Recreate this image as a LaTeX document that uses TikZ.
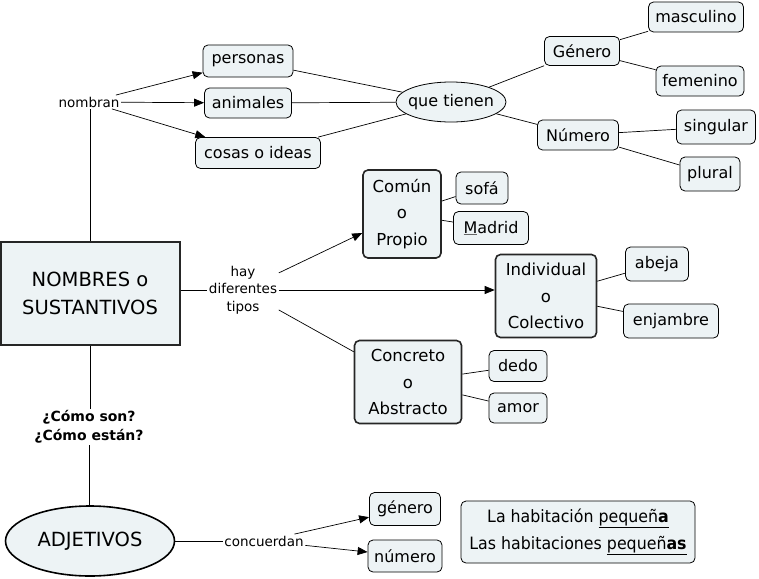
\documentclass[tikz,border=0pt]{standalone}
\usepackage{fontspec}
\setmainfont{DejaVu Sans}
\newfontfamily\lblfont{DejaVu Sans}
\newfontfamily\narrowfont{DejaVu Sans}[FakeStretch=0.93]
\usetikzlibrary{shapes.geometric,arrows.meta}
\definecolor{boxfill}{HTML}{EDF3F5}
\tikzset{
  every node/.style={font=\fontsize{16}{19}\selectfont},
  leaf/.style={draw=black, fill=boxfill, rounded corners=5pt, line width=0.8pt, inner sep=0pt},
  mid/.style={draw=black!85, fill=boxfill, rounded corners=5pt, line width=1.6pt, inner sep=0pt, align=center, font=\fontsize{16.5}{26.5}\selectfont},
  lbl/.style={inner sep=1.5pt, font=\lblfont\fontsize{13.5}{17.5}\selectfont, align=center},
  conn/.style={line width=0.7pt},
  arr/.style={line width=0.7pt, -{Triangle[length=10pt,width=8pt]}},
}
\begin{document}
\begin{tikzpicture}[x=1pt,y=-1pt]
\useasboundingbox (0,0) rectangle (759,578);
% top branch
\node[lbl] (nombran) at (89,102) {nombran};
\node[leaf, minimum width=90, minimum height=32] (personas) at (248,61) {personas};
\node[leaf, minimum width=87, minimum height=30] (animales) at (248,103) {animales};
\node[leaf, minimum width=125, minimum height=31] (cosas) at (258,153) {cosas o ideas};
\node[ellipse, draw=black, fill=boxfill, line width=0.8pt, minimum width=110, minimum height=40, inner xsep=-9pt, inner ysep=0pt] (tienen) at (451,102) {que tienen};
\node[leaf, minimum width=75, minimum height=29] (genero) at (582,51) {Género};
\node[leaf, minimum width=95, minimum height=30] (masc) at (696,17) {masculino};
\node[leaf, minimum width=88, minimum height=30] (fem) at (700,81) {femenino};
\node[leaf, minimum width=81, minimum height=30] (numero) at (578,135) {Número};
\node[leaf, minimum width=79, minimum height=34] (sing) at (716,127) {singular};
\node[leaf, minimum width=60, minimum height=34] (plural) at (710,174) {plural};
% main node
\node[draw=black!85, fill=boxfill, line width=2pt, minimum width=179, minimum height=103, align=center, inner sep=0pt, font=\fontsize{19.5}{28}\selectfont] (nombres) at (90,293) {NOMBRES o\\SUSTANTIVOS};
\node[lbl] (hay) at (243,290) {hay\\diferentes\\tipos};
\node[mid, minimum width=78, minimum height=88] (comun) at (402,214) {Común\\o\\Propio};
\node[leaf, minimum width=52, minimum height=32] (sofa) at (482,188) {sofá};
\node[leaf, minimum width=75, minimum height=33] (madrid) at (491,228) {{\color{black!60}\underline{\color{black}M}}adrid};
\node[mid, minimum width=101, minimum height=83] (indiv) at (546,296) {Individual\\o\\Colectivo};
\node[leaf, minimum width=63, minimum height=34] (abeja) at (657,264) {abeja};
\node[leaf, minimum width=95, minimum height=34] (enj) at (671,321) {enjambre};
\node[mid, minimum width=107, minimum height=83] (concreto) at (408,382) {Concreto\\o\\Abstracto};
\node[leaf, minimum width=58, minimum height=31] (dedo) at (518,366) {dedo};
\node[leaf, minimum width=58, minimum height=30] (amor) at (518,408) {amor};
% bottom
\node[lbl, font=\lblfont\bfseries\fontsize{14}{19}\selectfont] (como) at (89,427) {¿Cómo son?\\¿Cómo están?};
\node[ellipse, draw=black, fill=boxfill, line width=1.6pt, minimum width=169, minimum height=70, inner sep=0pt, font=\fontsize{19.5}{22}\selectfont] (adj) at (90,541) {ADJETIVOS};
\node[lbl] (conc) at (264,541) {concuerdan};
\node[leaf, minimum width=71, minimum height=33] (gen2) at (405,509) {género};
\node[leaf, minimum width=74, minimum height=32] (num2) at (405,556) {número};
\node[leaf, minimum width=234, minimum height=62, align=center, font=\narrowfont\fontsize{17}{27}\selectfont] (ejemplo) at (578,532) {La habitación \underline{pequeñ\textbf{a}}\\Las habitaciones \underline{pequeñ\textbf{as}}};
% connectors
\draw[conn] (nombres.north) -- (nombres.north |- nombran.south);
\draw[arr] (nombran) -- (personas);
\draw[arr] (nombran) -- (animales);
\draw[arr] (nombran) -- (cosas);
\draw[conn] (personas) -- (tienen);
\draw[conn] (animales) -- (tienen);
\draw[conn] (cosas) -- (tienen);
\draw[conn] (tienen) -- (genero);
\draw[conn] (tienen) -- (numero);
\draw[conn] (genero) -- (masc);
\draw[conn] (genero) -- (fem);
\draw[conn] (numero) -- (sing);
\draw[conn] (numero) -- (plural);
\draw[conn] (nombres.east |- hay) -- (hay);
\draw[arr] (hay) -- (comun);
\draw[arr] (hay.east) -- (indiv.west |- hay.east);
\draw[conn] (hay) -- (concreto);
\draw[conn] (comun) -- (sofa);
\draw[conn] (comun) -- (madrid);
\draw[conn] (indiv) -- (abeja);
\draw[conn] (indiv) -- (enj);
\draw[conn] (concreto) -- (dedo);
\draw[conn] (concreto) -- (amor);
\draw[conn] (nombres.south) -- (nombres.south |- como.north);
\draw[conn] (como.south) -- (como.south |- adj.north);
\draw[conn] (adj) -- (conc);
\draw[arr] (conc) -- (gen2);
\draw[arr] (conc) -- (num2);
\end{tikzpicture}
\end{document}
